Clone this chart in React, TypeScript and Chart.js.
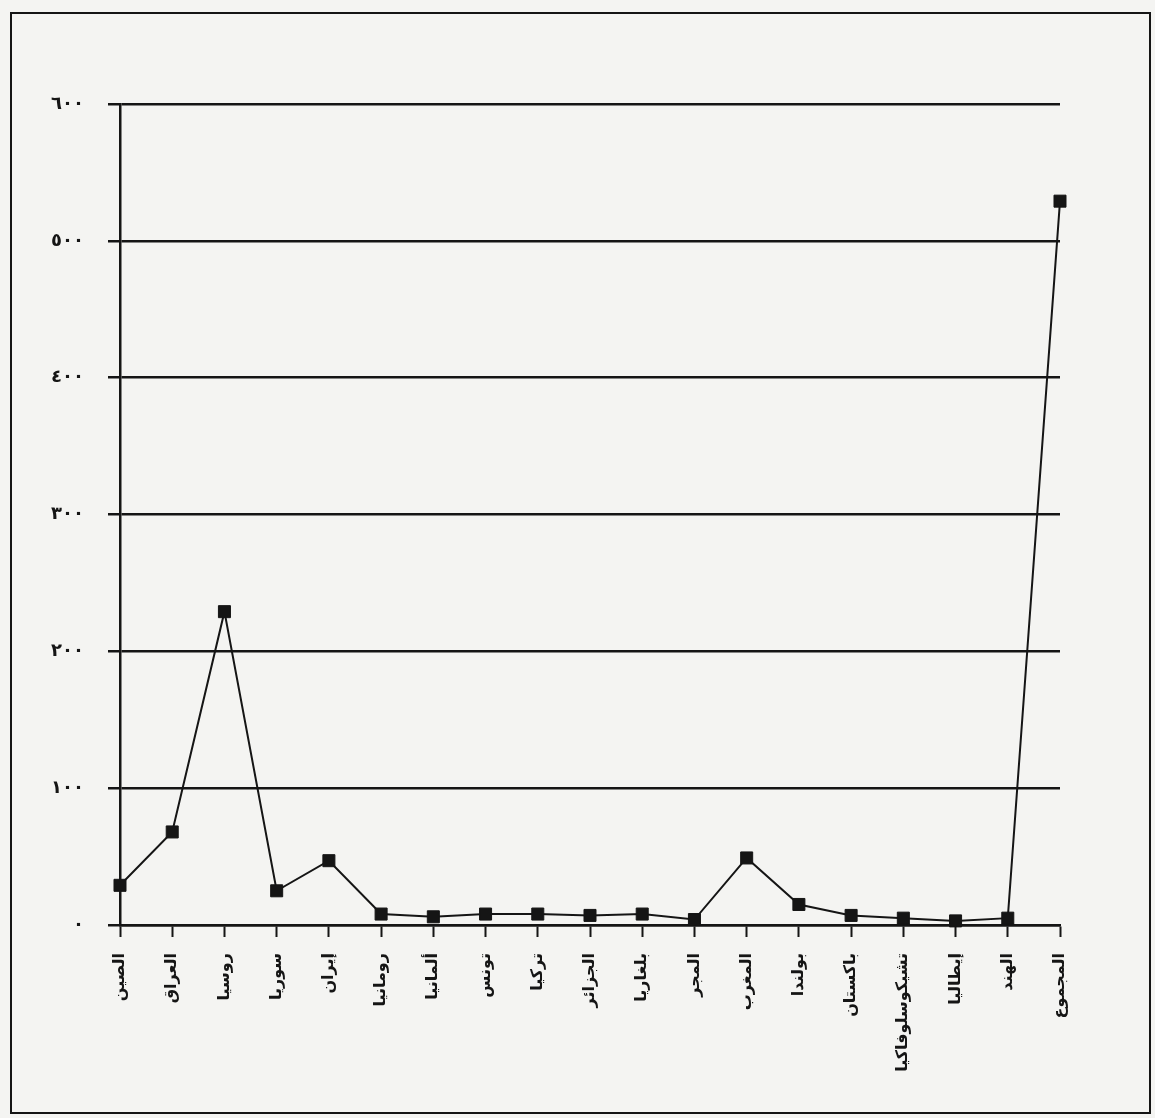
import React, { useEffect, useRef } from "react";
import { Chart, registerables } from "chart.js";

Chart.register(...registerables);

const categories = [
  "الصين",
  "العراق",
  "روسيا",
  "سوريا",
  "إيران",
  "رومانيا",
  "ألمانيا",
  "تونس",
  "تركيا",
  "الجزائر",
  "بلغاريا",
  "المجر",
  "المغرب",
  "بولندا",
  "باكستان",
  "تشيكوسلوفاكيا",
  "إيطاليا",
  "الهند",
  "المجموع",
];

const values = [29, 68, 229, 25, 47, 8, 6, 8, 8, 7, 8, 4, 49, 15, 7, 5, 3, 5, 529];

const yTickValues = [0, 100, 200, 300, 400, 500, 600];
const yTickLabels = ["٠", "١٠٠", "٢٠٠", "٣٠٠", "٤٠٠", "٥٠٠", "٦٠٠"];

const INK = "#151515";
const PAPER = "#f4f4f2";

export default function App() {
  const canvasRef = useRef<HTMLCanvasElement | null>(null);

  useEffect(() => {
    const canvas = canvasRef.current;
    if (!canvas) return;
    const chart = new Chart(canvas, {
      type: "line",
      data: {
        labels: categories,
        datasets: [
          {
            data: values,
            borderColor: INK,
            borderWidth: 2,
            backgroundColor: INK,
            pointStyle: "rect",
            pointRadius: 8.5,
            pointBorderWidth: 1,
            pointBackgroundColor: INK,
            pointBorderColor: INK,
            tension: 0,
            fill: false,
            clip: false,
          },
        ],
      },
      options: {
        responsive: false,
        animation: false,
        events: [],
        layout: { padding: { left: 0, right: 95, top: 104, bottom: 0 } },
        plugins: {
          legend: { display: false },
          tooltip: { enabled: false },
          title: { display: false },
        },
        scales: {
          x: {
            type: "category",
            offset: false,
            afterFit: (scale: any) => {
              scale.height = 193;
            },
            grid: {
              drawOnChartArea: false,
              drawTicks: true,
              tickLength: 12,
              tickWidth: 2,
              tickColor: INK,
            },
            border: { display: true, color: INK, width: 2.5 },
            ticks: {
              autoSkip: false,
              minRotation: 90,
              maxRotation: 90,
              padding: 16,
              color: INK,
              font: { family: "'DejaVu Sans', sans-serif", size: 16, weight: "bold" },
            },
          },
          y: {
            type: "linear",
            min: 0,
            max: 600,
            afterFit: (scale: any) => {
              scale.width = 120;
            },
            afterBuildTicks: (scale: any) => {
              scale.ticks = yTickValues.map((v) => ({ value: v }));
            },
            grid: {
              color: INK,
              lineWidth: 2.5,
              drawTicks: true,
              tickLength: 12,
              tickColor: INK,
            },
            border: { display: true, color: INK, width: 2.5 },
            ticks: {
              padding: 24,
              color: INK,
              font: { family: "'DejaVu Sans', sans-serif", size: 18, weight: "bold" },
              callback: (_v: any, i: number) => yTickLabels[i],
            },
          },
        },
      },
    });
    return () => chart.destroy();
  }, []);

  return (
    <div
      style={{
        position: "fixed",
        left: 0,
        top: 0,
        width: 1155,
        height: 1118,
        background: PAPER,
        overflow: "hidden",
      }}
    >
      <div
        style={{
          position: "absolute",
          left: 10,
          top: 12,
          width: 1137,
          height: 1098,
          border: `2px solid ${INK}`,
        }}
      />
      <canvas
        ref={canvasRef}
        width={1155}
        height={1118}
        style={{ position: "absolute", left: 0, top: 0, width: 1155, height: 1118 }}
      />
    </div>
  );
}
